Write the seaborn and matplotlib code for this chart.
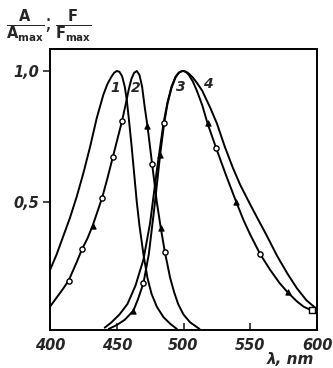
import numpy as np
import pandas as pd
import matplotlib
matplotlib.use("Agg")
import matplotlib.pyplot as plt
import seaborn as sns

# curve 1 (no markers)
wl1 = [400, 405, 410, 415, 420, 425, 430, 435, 440, 443, 446, 448, 450, 452, 454, 456, 457.5, 459, 461, 463, 465, 467, 470, 473, 476, 480, 485, 490, 495]
v1 = [0.24, 0.30, 0.37, 0.44, 0.52, 0.61, 0.71, 0.82, 0.91, 0.95, 0.978, 0.993, 1.0, 0.997, 0.98, 0.94, 0.89, 0.82, 0.72, 0.61, 0.50, 0.41, 0.30, 0.21, 0.15, 0.10, 0.06, 0.035, 0.015]

# curve 2
wl2 = [400, 405, 410, 414, 420, 424, 428, 432, 436, 439, 443, 447, 451, 454, 457, 459, 461, 463, 465, 467, 469, 471, 473, 476.5, 480, 483, 486, 490, 493, 496, 500, 505, 512]
v2 = [0.10, 0.135, 0.17, 0.20, 0.27, 0.32, 0.36, 0.41, 0.47, 0.515, 0.59, 0.67, 0.75, 0.81, 0.88, 0.93, 0.97, 0.993, 1.0, 0.985, 0.94, 0.86, 0.79, 0.645, 0.50, 0.40, 0.31, 0.21, 0.155, 0.11, 0.07, 0.04, 0.015]

# curve 3
wl3 = [444, 450, 456, 462.5, 466, 470, 474, 478, 482.5, 485.5, 488, 491, 494, 496.5, 498.5, 500, 502, 504, 507, 510, 514, 518, 524.5, 532, 539.5, 545, 550, 557.5, 565, 572, 578, 585, 590, 596, 600]
v3 = [0.015, 0.03, 0.05, 0.085, 0.13, 0.19, 0.30, 0.47, 0.68, 0.80, 0.875, 0.935, 0.975, 0.993, 0.999, 1.0, 0.996, 0.985, 0.96, 0.925, 0.87, 0.80, 0.705, 0.60, 0.50, 0.43, 0.375, 0.30, 0.24, 0.19, 0.155, 0.12, 0.10, 0.086, 0.078]

# curve 4 (no markers)
wl4 = [441, 446, 452, 458, 464, 470, 475, 480, 485, 488, 491, 494, 496.5, 498.5, 500, 502, 504, 507, 510, 514, 520, 525, 531, 537, 542.5, 550, 556, 562, 570, 578, 585, 592, 600]
v4 = [0.02, 0.04, 0.07, 0.11, 0.18, 0.28, 0.42, 0.62, 0.80, 0.88, 0.94, 0.978, 0.994, 0.999, 1.0, 0.997, 0.99, 0.975, 0.955, 0.925, 0.86, 0.80, 0.71, 0.63, 0.565, 0.49, 0.432, 0.375, 0.295, 0.225, 0.17, 0.125, 0.09]

# measured points
circ_wl = [414, 424, 439, 447, 454, 476.5, 486, 470, 485.5, 524.5, 557.5]
circ_v = [0.20, 0.32, 0.515, 0.67, 0.81, 0.645, 0.31, 0.19, 0.80, 0.705, 0.30]
tri_wl = [432, 473, 483, 462.5, 482.5, 518, 539.5, 578]
tri_v = [0.41, 0.79, 0.40, 0.085, 0.68, 0.80, 0.50, 0.155]
sq_wl = [596]
sq_v = [0.086]

labels = ["1", "2", "3", "4"]
label_pos_x = [448.5, 464.5, 498, 518]
label_pos_y = [0.935, 0.935, 0.94, 0.95]

xticks = [400, 450, 500, 550, 600]
yticks = [0.5, 1.0]
ytick_labels = ["0,5", "1,0"]

sns.set_style("white")
plt.rcParams['font.family'] = ['DejaVu Sans']

fig = plt.figure(figsize=(3.33, 3.68), dpi=100)
ax = fig.add_axes([50/333, 1-330/368, (317-50)/333, (330-49)/368])

for wl, v in [(wl1, v1), (wl2, v2), (wl3, v3), (wl4, v4)]:
    df = pd.DataFrame({"wl": wl, "v": v})
    sns.lineplot(data=df, x="wl", y="v", ax=ax, color="black", lw=1.4, sort=False)

sns.scatterplot(x=circ_wl, y=circ_v, ax=ax, marker="o", s=14, facecolor="white",
                edgecolor="black", linewidth=1.0, zorder=5)
sns.scatterplot(x=tri_wl, y=tri_v, ax=ax, marker="^", s=14, color="black",
                edgecolor="black", linewidth=0.8, zorder=5)
sns.scatterplot(x=sq_wl, y=sq_v, ax=ax, marker="s", s=14, facecolor="white",
                edgecolor="black", linewidth=1.0, zorder=5)

for t, x, y in zip(labels, label_pos_x, label_pos_y):
    ax.text(x, y, t, fontsize=10, style="italic", fontweight="bold", ha="center", va="center")

ax.set_xlim(400, 600)
ax.set_ylim(0.011, 1.084)
ax.set_xticks(xticks)
ax.set_xticklabels([str(t) for t in xticks], fontsize=10.5, style="italic", fontweight="bold")
ax.set_yticks(yticks)
ax.set_yticklabels(ytick_labels, fontsize=10.5, style="italic", fontweight="bold")
ax.tick_params(axis="x", direction="in", length=5, width=1.2, bottom=True, pad=6)
ax.tick_params(axis="y", direction="out", length=5, width=1.2, left=True, pad=3)
ax.set_xlabel("")
ax.set_ylabel("")
for s in ax.spines.values():
    s.set_linewidth(1.4)
    s.set_color("black")

fig.text(6/333, 1-26/368, r"$\mathbf{\frac{A}{A_{max}}}$;$\,\mathbf{\frac{F}{F_{max}}}$",
         fontsize=15, ha="left", va="center")
fig.text(290/333, 1-360/368, "λ, nm", fontsize=11, style="italic", fontweight="bold",
         ha="center", va="center")

fig.savefig("out.png", dpi=100)
